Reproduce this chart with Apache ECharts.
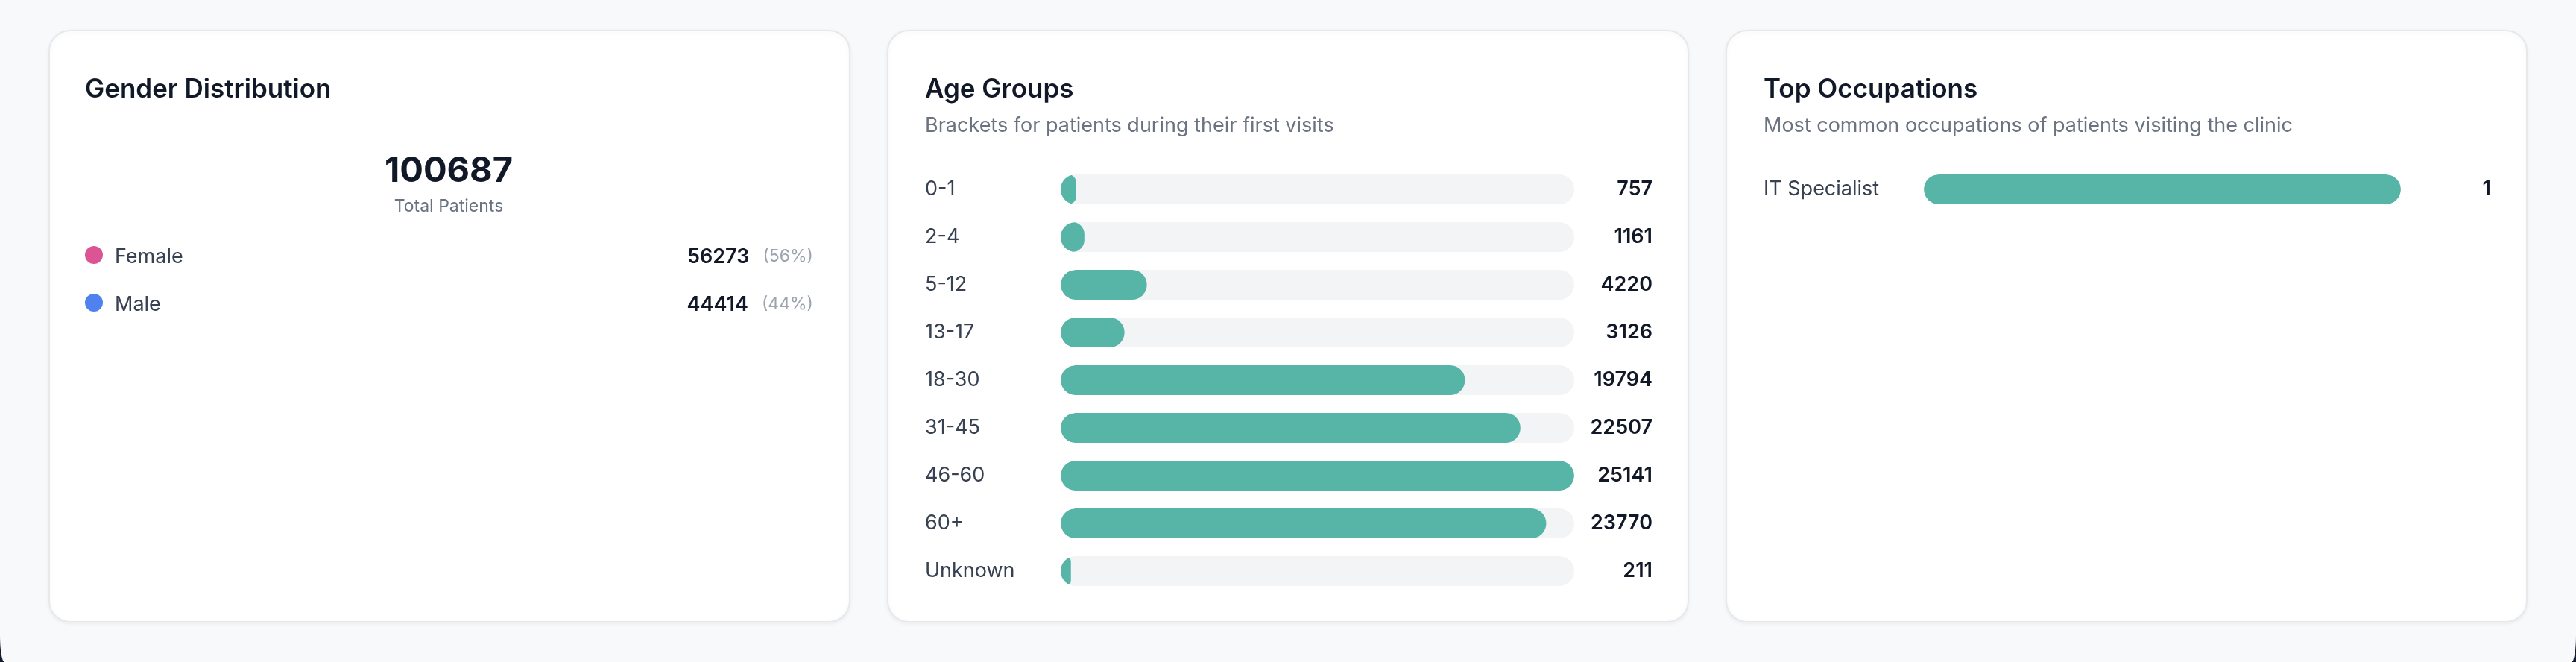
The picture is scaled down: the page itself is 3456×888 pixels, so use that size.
<!DOCTYPE html>
<html>
<head>
<meta charset="utf-8">
<script src="https://cdn.jsdelivr.net/npm/echarts@6/dist/echarts.min.js"></script>
<style>
html,body{margin:0;padding:0;background:#151c2c;width:3456px;height:888px;overflow:hidden;}
#page{position:absolute;left:0;top:0;width:3456px;height:888px;background:#f8f9fb;border-bottom-left-radius:6px 36px;border-bottom-right-radius:6px 36px;}
#chart{position:absolute;left:0;top:0;width:3456px;height:888px;}
</style>
</head>
<body>
<div id="page"></div>
<div id="chart"></div>
<script>
// ---- data ----
const genderLabels = ['Female', 'Male'];
const genderValues = [56273, 44414];
const genderColors = ['#db5594', '#4f82ef'];

const ageCategories = ['0-1', '2-4', '5-12', '13-17', '18-30', '31-45', '46-60', '60+', 'Unknown'];
const ageValues = [757, 1161, 4220, 3126, 19794, 22507, 25141, 23770, 211];

const occupationCategories = ['IT Specialist'];
const occupationValues = [1];

const cardTitles = ['Gender Distribution', 'Age Groups', 'Top Occupations'];
const cardSubtitles = ['', 'Brackets for patients during their first visits', 'Most common occupations of patients visiting the clinic'];

// ---- styles ----
const FONT = 'Inter, "Noto Sans", sans-serif';
const TEAL = '#56b5a6';
const TRACK = '#f3f4f6';
const DY = 2.5;

const totalPatients = genderValues.reduce((a, b) => a + b, 0);
const ageMax = Math.max(...ageValues);
const occMax = Math.max(...occupationValues);

function txt(x, y, text, size, weight, color, align) {
  return {
    type: 'text', z: 5, x: x, y: y + DY, silent: true,
    style: {
      text: text, font: weight + ' ' + size + 'px ' + FONT, fill: color,
      align: align || 'left', verticalAlign: 'middle',
      textAlign: align || 'left', textVerticalAlign: 'middle'
    }
  };
}
function card(x) {
  return {
    type: 'rect', z: 0, silent: true,
    shape: { x: x, y: 41, width: 1074, height: 793, r: 28 },
    style: { fill: '#ffffff', stroke: '#e7e8ec', lineWidth: 2, shadowBlur: 6, shadowOffsetY: 2, shadowColor: 'rgba(0,0,0,0.06)' }
  };
}

const cardX = [66, 1191, 2316];
const innerLeft = [114, 1241, 2366];
const graphics = [];
cardX.forEach(x => graphics.push(card(x)));
cardTitles.forEach((t, i) => graphics.push(txt(innerLeft[i], 118, t, 35, 600, '#111827')));
cardSubtitles.forEach((t, i) => { if (t) graphics.push(txt(innerLeft[i], 166, t, 27, 400, '#6b7280')); });

// gender card
graphics.push(txt(602, 227, String(totalPatients), 47, 700, '#111827', 'center'));
graphics.push(txt(602, 275, 'Total Patients', 23, 400, '#6b7280', 'center'));
genderLabels.forEach((g, i) => {
  const y = 342 + i * 64;
  const pct = Math.round(genderValues[i] / totalPatients * 100);
  graphics.push({ type: 'circle', z: 5, silent: true, shape: { cx: 126, cy: y, r: 12 }, style: { fill: genderColors[i] } });
  graphics.push(txt(154, y, g, 27, 400, '#374151'));
  graphics.push({
    type: 'text', z: 5, x: 1091, y: y + DY, silent: true,
    style: {
      text: '{v|' + genderValues[i] + '}{p|(' + pct + '%)}',
      align: 'right', verticalAlign: 'middle', textAlign: 'right', textVerticalAlign: 'middle',
      rich: {
        v: { font: '600 27px ' + FONT, fill: '#111827' },
        p: { font: '400 23px ' + FONT, fill: '#9ca3af', padding: [0, 0, 0, 18] }
      }
    }
  });
});

function makeRender(max) {
  return function (params, api) {
    const v = api.value(0), c = api.value(1);
    const p0 = api.coord([0, c]);
    const p1 = api.coord([max, c]);
    const pv = api.coord([Math.max(v, max * 0.02), c]);
    const h = api.size([0, 1])[1] * 0.625;
    const y = p0[1] - h / 2;
    const track = { x: p0[0], y: y, width: p1[0] - p0[0], height: h, r: h / 2 };
    const w = pv[0] - p0[0];
    return {
      type: 'group',
      children: [
        { type: 'rect', shape: track, style: { fill: TRACK } },
        {
          type: 'rect',
          shape: { x: p0[0], y: y, width: w, height: h, r: Math.min(h / 2, w / 2) },
          style: { fill: TEAL },
          clipPath: { type: 'rect', shape: track }
        }
      ]
    };
  };
}

const hiddenLine = { show: false };
function catAxis(grid, data, position, margin, align, formatter, color, weight) {
  return {
    gridIndex: grid, type: 'category', inverse: true, data: data, position: position,
    axisLine: hiddenLine, axisTick: hiddenLine, splitLine: hiddenLine,
    axisLabel: {
      interval: 0, margin: margin, align: align, formatter: formatter,
      color: color, fontSize: 27, fontWeight: weight, fontFamily: FONT,
      padding: [DY * 2, 0, 0, 0]
    }
  };
}

const chart = echarts.init(document.getElementById('chart'), null, { renderer: 'canvas' });
chart.setOption({
  backgroundColor: 'transparent',
  animation: false,
  graphic: { elements: graphics },
  grid: [
    { left: 1423, top: 222, width: 689, height: 576, outerBoundsMode: 'none', containLabel: false },
    { left: 2581, top: 222, width: 640, height: 64, outerBoundsMode: 'none', containLabel: false }
  ],
  xAxis: [
    { gridIndex: 0, type: 'value', min: 0, max: ageMax, show: false },
    { gridIndex: 1, type: 'value', min: 0, max: occMax, show: false }
  ],
  yAxis: [
    catAxis(0, ageCategories, 'left', 182, 'left', null, '#374151', 400),
    catAxis(0, ageCategories, 'right', 105, 'right', (v, i) => String(ageValues[i]), '#111827', 600),
    catAxis(1, occupationCategories, 'left', 215, 'left', null, '#374151', 400),
    catAxis(1, occupationCategories, 'right', 121, 'right', (v, i) => String(occupationValues[i]), '#111827', 600)
  ],
  series: [
    {
      type: 'custom', xAxisIndex: 0, yAxisIndex: 0, silent: true, z: 3,
      encode: { x: 0, y: 1 },
      data: ageValues.map((v, i) => [v, i]),
      renderItem: makeRender(ageMax)
    },
    {
      type: 'custom', xAxisIndex: 1, yAxisIndex: 2, silent: true, z: 3,
      encode: { x: 0, y: 1 },
      data: occupationValues.map((v, i) => [v, i]),
      renderItem: makeRender(occMax)
    }
  ]
});
</script>
</body>
</html>
